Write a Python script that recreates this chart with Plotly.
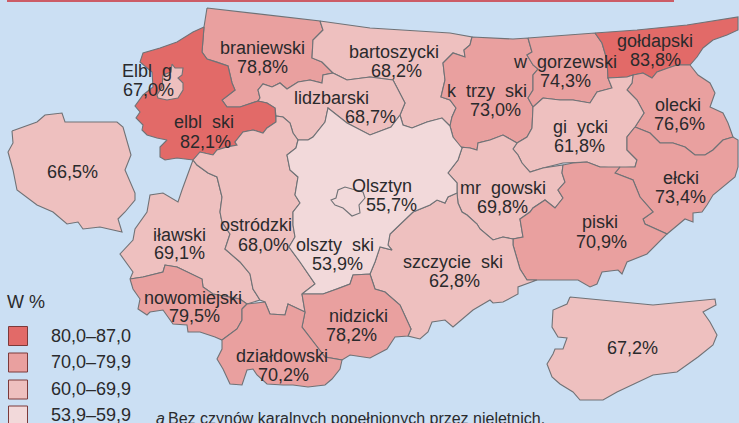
import plotly.graph_objects as go

# Values (%)
county_names = ["braniewski", "bartoszycki", "lidzbarski", "elbląski", "Elbląg", "kętrzyński", "węgorzewski",
                "gołdapski", "olecki", "giżycki", "ełcki", "mrągowski", "Olsztyn", "piski", "szczycieński",
                "iławski", "ostródzki", "olsztyński", "nowomiejski", "nidzicki", "działdowski", "", ""]
# the source picture lost the Polish letters with ogonek / dot in its labels
shown_names = ["braniewski", "bartoszycki", "lidzbarski", "elbl\u00a0\u00a0ski", "Elbl\u00a0\u00a0g",
               "k\u00a0\u00a0trzy\u00a0\u00a0ski", "w\u00a0\u00a0gorzewski", "gołdapski", "olecki",
               "gi\u00a0\u00a0ycki", "ełcki", "mr\u00a0\u00a0gowski", "Olsztyn", "piski",
               "szczycie\u00a0\u00a0ski", "iławski", "ostródzki", "olszty\u00a0\u00a0ski", "nowomiejski",
               "nidzicki", "działdowski", "", ""]
county_values = [78.8, 68.2, 68.7, 82.1, 67.0, 73.0, 74.3, 83.8, 76.6, 61.8, 73.4, 69.8, 55.7, 70.9, 62.8,
                 69.1, 68.0, 53.9, 79.5, 78.2, 70.2, 66.5, 67.2]

legend_title = "W %"
legend_labels = ["80,0–87,0", "70,0–79,9", "60,0–69,9", "53,9–59,9"]
legend_lows = [80.0, 70.0, 60.0, 53.9]
class_colors = ["#e26a68", "#e9a09f", "#eec0bf", "#f2d9da"]
footnote_mark = "a"
footnote = "Bez czynów karalnych popełnionych przez nieletnich."

# Outlines of the map units, in map units of the picture
out_braniewski = [(207,8),(320,21),(323,30),(313,40),(312,58),(322,62),(333,73),(323,75),(322,83),(310,80),(298,82),(287,89),(280,83),(272,87),(263,84),(258,90),(260,98),(258,101),(240,107),(227,107),(222,100),(235,90),(232,83),(228,66),(217,62),(207,59),(202,52),(204,27)]
out_bartoszycki = [(320,21),(370,28),(450,33),(472,37),(470,45),(464,50),(465,57),(453,53),(443,63),(445,80),(441,97),(450,100),(456,108),(452,117),(450,126),(442,118),(427,122),(412,128),(403,125),(400,115),(405,103),(393,80),(370,77),(347,80),(333,73),(322,62),(312,58),(313,40),(323,30)]
out_lidzbarski = [(333,73),(347,80),(370,77),(393,80),(405,103),(400,115),(391,127),(370,135),(347,123),(328,108),(325,122),(313,137),(308,140),(298,140),(293,133),(290,123),(283,117),(276,116),(275,108),(267,103),(258,101),(260,98),(258,90),(263,84),(272,87),(280,83),(287,89),(298,82),(310,80),(322,83),(323,75)]
out_elblaski = [(204,27),(202,52),(207,59),(217,62),(228,66),(232,83),(235,90),(222,100),(227,107),(240,107),(258,101),(267,103),(275,108),(276,122),(267,128),(263,133),(253,130),(243,132),(235,142),(237,145),(227,147),(217,150),(213,155),(200,152),(193,160),(177,158),(165,160),(160,157),(160,147),(167,140),(157,138),(147,135),(142,130),(143,125),(136,118),(140,112),(135,106),(143,95),(153,87),(152,72),(140,62),(143,53),(160,48),(177,42),(193,32)]
out_elblag = [(172,64),(175,68),(183,68),(182,75),(178,78),(183,83),(183,90),(178,98),(167,100),(158,98),(157,95),(162,87),(163,75),(171,72)]
out_ketrzynski = [(472,37),(503,38),(513,39),(528,38),(532,52),(527,55),(533,65),(538,69),(533,75),(533,90),(528,98),(533,107),(532,128),(527,137),(517,143),(503,135),(490,140),(478,143),(477,150),(470,148),(460,147),(453,137),(450,126),(452,117),(456,108),(450,100),(441,97),(445,80),(443,63),(453,53),(465,57),(464,50),(470,45)]
out_wegorzewski = [(528,38),(567,35),(595,33),(602,43),(607,60),(608,78),(612,88),(597,92),(590,103),(573,100),(560,100),(543,98),(533,107),(528,98),(533,90),(533,75),(538,69),(533,65),(527,55),(532,52)]
out_goldapski = [(595,33),(637,30),(687,25),(738,17),(738,30),(727,35),(713,40),(703,48),(697,57),(690,65),(677,65),(668,68),(657,72),(652,78),(643,73),(633,75),(627,77),(608,78),(607,60),(602,43)]
out_olecki = [(633,75),(643,73),(652,78),(657,72),(668,68),(677,65),(690,65),(698,75),(710,83),(715,93),(710,107),(723,113),(728,123),(733,137),(723,140),(713,150),(705,155),(695,155),(685,147),(673,143),(660,143),(650,133),(635,127),(644,113),(637,100),(627,90),(632,83)]
out_gizycki = [(543,98),(560,100),(573,100),(590,103),(597,92),(612,88),(608,78),(627,77),(633,75),(632,83),(627,90),(637,100),(644,113),(635,127),(627,137),(627,150),(637,160),(635,167),(617,168),(600,167),(587,162),(573,163),(563,163),(543,168),(530,172),(522,163),(518,155),(513,149),(517,143),(527,137),(532,128),(533,107)]
out_elcki = [(635,127),(650,133),(660,143),(673,143),(685,147),(695,155),(705,155),(713,150),(723,140),(733,137),(738,140),(738,167),(735,177),(723,187),(713,195),(707,205),(702,212),(693,213),(693,222),(685,219),(667,234),(645,224),(643,219),(653,212),(640,197),(633,180),(615,173),(620,167),(635,167),(637,160),(627,150),(627,137)]
out_mragowski = [(460,147),(470,148),(477,150),(478,143),(490,140),(503,135),(517,143),(513,149),(518,155),(522,163),(530,172),(543,168),(563,165),(562,173),(565,182),(558,190),(563,198),(555,208),(545,200),(533,208),(530,212),(520,219),(523,237),(513,239),(503,237),(493,240),(480,229),(477,224),(467,215),(462,212),(458,203),(457,193),(457,183),(448,173),(458,160),(462,148)]
out_olsztynski = [(298,140),(308,140),(313,137),(325,122),(328,108),(347,123),(370,135),(391,127),(400,115),(403,125),(412,128),(427,122),(442,118),(450,126),(453,137),(462,148),(458,160),(448,173),(457,183),(457,193),(448,197),(445,203),(437,200),(430,205),(413,212),(390,234),(388,245),(392,250),(380,247),(375,262),(370,274),(353,275),(350,284),(337,289),(323,294),(302,294),(315,284),(300,262),(289,247),(295,237),(293,225),(293,212),(300,203),(295,195),(298,177),(290,170),(287,155),(296,148)]
out_olsztyn = [(352,189),(345,187),(338,190),(336,198),(331,200),(335,205),(343,208),(348,213),(352,216),(360,213),(359,205),(365,198),(363,192)]
out_piski = [(563,165),(562,173),(565,182),(558,190),(563,198),(555,208),(545,200),(533,208),(530,212),(520,219),(523,237),(513,239),(513,245),(520,269),(527,280),(537,280),(560,280),(578,280),(590,287),(597,284),(602,272),(618,270),(622,274),(627,262),(647,254),(667,234),(645,224),(643,219),(653,212),(640,197),(633,180),(615,173),(620,167),(600,167),(587,162),(573,163)]
out_szczycienski = [(413,212),(430,205),(437,200),(445,203),(448,197),(457,193),(458,203),(462,212),(467,215),(477,224),(480,229),(493,240),(503,237),(513,239),(513,245),(520,269),(527,280),(537,280),(518,287),(518,294),(503,302),(493,303),(490,300),(473,310),(453,327),(445,320),(432,322),(428,332),(420,339),(408,336),(411,329),(400,305),(385,292),(375,289),(370,274),(375,262),(380,247),(392,250),(388,245),(390,234)]
out_ilawski = [(193,160),(197,165),(208,173),(217,177),(222,197),(220,212),(222,222),(230,234),(225,249),(240,262),(250,274),(253,289),(260,300),(247,304),(240,299),(213,294),(203,287),(202,279),(177,267),(165,265),(163,272),(143,277),(130,279),(133,272),(120,254),(133,240),(135,229),(147,212),(150,195),(163,193),(178,202),(182,190)]
out_ostrodzki = [(193,160),(200,152),(213,155),(217,150),(227,147),(237,145),(235,142),(243,132),(253,130),(263,133),(267,128),(276,122),(276,116),(283,117),(290,123),(293,133),(298,140),(296,148),(287,155),(290,170),(298,177),(295,195),(300,203),(293,212),(293,225),(295,237),(289,247),(300,262),(315,284),(302,294),(305,312),(288,304),(285,315),(270,314),(265,302),(260,300),(253,289),(250,274),(240,262),(225,249),(230,234),(222,222),(220,212),(222,197),(217,177),(208,173),(197,165)]
out_nowomiejski = [(130,279),(143,277),(163,272),(165,265),(177,267),(202,279),(203,287),(213,294),(240,299),(247,304),(242,309),(242,320),(237,329),(222,340),(215,337),(200,332),(188,332),(187,325),(173,324),(163,310),(150,312),(147,315),(138,309),(140,299),(133,289)]
out_nidzicki = [(302,294),(323,294),(337,289),(350,284),(353,275),(370,274),(375,289),(385,292),(400,305),(411,329),(408,336),(395,337),(387,349),(370,358),(350,355),(342,360),(325,357),(315,344),(302,327),(305,312)]
out_dzialdowski = [(242,309),(247,304),(265,302),(270,314),(285,315),(288,304),(305,312),(302,327),(315,344),(325,357),(342,360),(340,369),(332,379),(325,385),(308,387),(293,385),(283,385),(267,384),(257,375),(253,369),(247,370),(242,385),(230,384),(223,369),(217,359),(222,349),(222,340),(237,329),(242,320)]
out_west = [(12,131),(37,122),(45,115),(62,113),(65,122),(117,122),(123,127),(131,155),(125,170),(135,193),(135,200),(125,212),(118,219),(122,232),(100,227),(83,229),(78,222),(67,224),(53,212),(37,205),(17,190),(13,170),(8,152),(13,143)]
out_east = [(570,297),(603,300),(653,305),(715,299),(716,305),(703,312),(710,322),(717,335),(713,345),(698,357),(677,372),(653,375),(633,384),(617,392),(603,400),(580,400),(573,392),(560,384),(552,377),(547,364),(553,354),(555,349),(563,349),(567,338),(558,337),(552,327),(553,310),(567,304)]

outlines = [out_braniewski, out_bartoszycki, out_lidzbarski, out_elblaski, out_elblag, out_ketrzynski,
            out_wegorzewski, out_goldapski, out_olecki, out_gizycki, out_elcki, out_mragowski, out_olsztyn,
            out_piski, out_szczycienski, out_ilawski, out_ostrodzki, out_olsztynski, out_nowomiejski, out_nidzicki,
            out_dzialdowski, out_west, out_east]
name_xy = [(262,48),(394,52),(331,98),(204,122),(147,71),(487,91),(565,62),(655,41),(678,105),(580,127),(681,178),
           (503,188),(382,186),(600,222),(453,262),(179,235),(256,225),(335,245),(193,298),(358,316),(282,356),None,None]
value_xy = [(262,67),(396,71),(370,117),(205,142),(148,90),(495,110),(565,81),(655,60),(679,124),(579,146),(680,197),
            (502,207),(391,205),(601,242),(454,281),(179,253),(263,245),(337,264),(194,316),(351,335),(283,375),(72.5,172),(632,348)]

BG = "#cbdff3"
EDGE = "#707276"
TXT = "#2a2a2c"
FONT = "Liberation Sans, Arial, sans-serif"


def class_color(v):
    for low, col in zip(legend_lows, class_colors):
        if v >= low:
            return col
    return class_colors[-1]


def ring(pts, color, width=1.1):
    xs = [p[0] for p in pts] + [pts[0][0]]
    ys = [p[1] for p in pts] + [pts[0][1]]
    return go.Scatter(x=xs, y=ys, mode="lines", fill="toself", fillcolor=color,
                      line=dict(color=EDGE, width=width), hoverinfo="skip", showlegend=False)


fig = go.Figure()
# rings drawn last sit inside their neighbours
draw_last = (out_olsztyn, out_elblag)
for val, pts in zip(county_values, outlines):
    if not any(pts is d for d in draw_last):
        fig.add_trace(ring(pts, class_color(val)))
for val, pts in zip(county_values, outlines):
    if any(pts is d for d in draw_last):
        fig.add_trace(ring(pts, class_color(val)))

# Legend swatches
leg_y = [336, 362.5, 389.5, 415.5]
fig.add_trace(go.Scatter(x=[18] * 4, y=leg_y, mode="markers",
                         marker=dict(symbol="square", size=19, color=class_colors,
                                     line=dict(color="#7c3a3a", width=1)),
                         hoverinfo="skip", showlegend=False, cliponaxis=False))

annos = []
def label(x, y, s, size=18, anchor="center", color=TXT):
    annos.append(dict(x=x, y=y, text=s, showarrow=False, xanchor=anchor, yanchor="middle",
                      font=dict(family=FONT, size=size, color=color), xref="x", yref="y", align="center"))

for nm, val, nxy, vxy in zip(shown_names, county_values, name_xy, value_xy):
    if nxy is not None:
        label(nxy[0], nxy[1], nm)
    label(vxy[0], vxy[1], f"{val:.1f}%".replace(".", ","))

label(5, 302, legend_title, anchor="left")
for s, y in zip(legend_labels, [336, 362, 389, 415]):
    label(48.5, y, s, anchor="left")
annos.append(dict(x=154, y=418, text=f"<i>{footnote_mark}</i>", showarrow=False, xanchor="left", yanchor="middle",
                  font=dict(family=FONT, size=16, color=TXT)))
label(166, 418, footnote, size=16, anchor="left")

fig.update_layout(
    width=739, height=423, autosize=False,
    margin=dict(l=0, r=0, t=0, b=0),
    paper_bgcolor=BG, plot_bgcolor=BG,
    xaxis=dict(range=[0, 739], visible=False, fixedrange=True),
    yaxis=dict(range=[423, 0], visible=False, fixedrange=True),
    annotations=annos,
    shapes=[dict(type="rect", xref="x", yref="y", x0=7, x1=674, y0=0, y1=2,
                 fillcolor="#cc5c66", line=dict(width=0))],
    showlegend=False,
)
fig.write_html("out.html", config=dict(displayModeBar=False),
               post_script="document.body.style.margin='0';document.body.style.overflow='hidden';")
